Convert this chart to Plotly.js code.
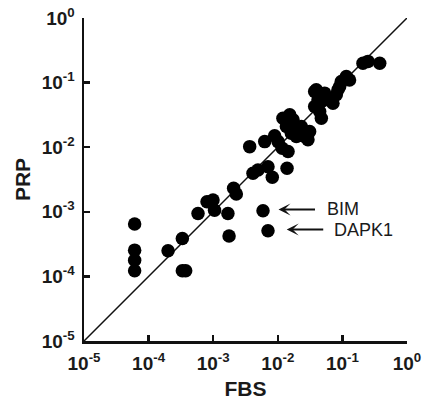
<!DOCTYPE html>
<html>
<head>
<meta charset="utf-8">
<script src="https://cdn.plot.ly/plotly-3.0.1.min.js"></script>
<style>html,body{margin:0;padding:0;background:#fff;}#chart{width:423px;height:403px;}</style>
</head>
<body>
<div id="chart"></div>
<script>
// FBS (x) and PRP (y) values
const fbs = [6.08e-5, 6.08e-5, 6.08e-5, 6.08e-5, 2.0e-4, 3.33e-4, 3.33e-4, 3.75e-4, 5.82e-4, 8.02e-4,
  9.93e-4, 1.05e-3, 1.69e-3, 1.76e-3, 2.07e-3, 2.28e-3, 3.67e-3, 4.13e-3, 4.93e-3, 6.27e-3,
  5.90e-3, 7.05e-3, 7.05e-3, 8.22e-3, 8.93e-3, 1.01e-2, 1.17e-2, 1.39e-2, 1.44e-2, 1.20e-2,
  1.36e-2, 1.53e-2, 1.72e-2, 1.94e-2, 2.18e-2, 2.31e-2, 2.61e-2, 2.93e-2, 1.94e-2, 1.62e-2,
  3.11e-2, 3.72e-2, 3.94e-2, 4.19e-2, 4.72e-2, 5.31e-2, 5.98e-2, 4.45e-2, 4.72e-2, 7.14e-2,
  8.05e-2, 9.08e-2, 9.62e-2, 0.115, 0.129, 8.55e-2, 0.208, 0.249, 0.378, 3.72e-2];
const prp = [6.46e-4, 2.55e-4, 1.78e-4, 1.22e-4, 2.49e-4, 3.86e-4, 1.22e-4, 1.22e-4, 9.44e-4, 1.43e-3,
  1.52e-3, 1.06e-3, 9.44e-4, 4.21e-4, 2.31e-3, 1.88e-3, 1.02e-2, 3.94e-3, 4.44e-3, 1.22e-2,
  1.04e-3, 5.08e-4, 5.0e-3, 3.42e-3, 1.50e-2, 1.22e-2, 9.62e-3, 4.71e-3, 8.55e-3, 2.81e-2,
  2.09e-2, 3.17e-2, 2.65e-2, 1.85e-2, 1.64e-2, 2.09e-2, 1.46e-2, 1.30e-2, 1.46e-2, 1.64e-2,
  1.75e-2, 4.27e-2, 7.73e-2, 5.41e-2, 5.09e-2, 6.87e-2, 5.41e-2, 3.56e-2, 2.81e-2, 4.81e-2,
  6.47e-2, 8.71e-2, 0.104, 0.124, 0.110, 7.73e-2, 0.200, 0.213, 0.200, 7.28e-2];
const identityLine = [1e-5, 1];
const tickVals = [1e-5, 1e-4, 1e-3, 1e-2, 1e-1, 1];
const tickText = ['10<sup>-5</sup>', '10<sup>-4</sup>', '10<sup>-3</sup>', '10<sup>-2</sup>', '10<sup>-1</sup>', '10<sup>0</sup>'];
const labels = ['BIM', 'DAPK1'];
const labelFbs = [5.90e-3, 7.05e-3];
const labelPrp = [1.04e-3, 5.08e-4];

const fam = 'Liberation Sans, Arial, sans-serif';
const tickFont = {family: fam, size: 19, color: '#1a1a1a', weight: 'bold'};
const axisCommon = {
  type: 'log', range: [-5, 0], tickvals: tickVals, ticktext: tickText,
  ticks: 'inside', ticklen: 6, tickwidth: 2.5, tickcolor: '#111',
  showline: true, linewidth: 2.5, linecolor: '#111', mirror: false,
  showgrid: false, zeroline: false, tickfont: tickFont
};

const traces = [
  {x: identityLine, y: identityLine, mode: 'lines', line: {color: '#111', width: 1.5}, hoverinfo: 'skip'},
  {x: fbs, y: prp, mode: 'markers', marker: {color: '#000', size: 13.5, line: {width: 0}}}
];

const annFont = {family: fam, size: 18, color: '#1a1a1a'};
const annotations = [];
const arrowGap = [0.24, 0.29];
const textGap = [0.955, 0.986];
labels.forEach((t, i) => {
  const lx = Math.log10(labelFbs[i]);
  const ly = Math.log10(labelPrp[i]);
  annotations.push({x: lx + arrowGap[i], y: ly + 0.02, xref: 'x', yref: 'y', text: '', showarrow: true,
    arrowhead: 3, arrowsize: 1, arrowwidth: 2, arrowcolor: '#111', ax: 38, ay: 0, standoff: 0});
  annotations.push({x: lx + textGap[i], y: ly + 0.02, xref: 'x', yref: 'y', text: t, showarrow: false,
    xanchor: 'left', yanchor: 'middle', font: annFont});
});

const layout = {
  width: 423, height: 403,
  margin: {l: 84, r: 16, t: 18, b: 62},
  paper_bgcolor: '#fff', plot_bgcolor: '#fff',
  showlegend: false,
  xaxis: Object.assign({}, axisCommon, {ticklabelstandoff: 4,
    title: {text: 'FBS', font: {family: fam, size: 21, color: '#1a1a1a', weight: 'bold'}, standoff: 8}}),
  yaxis: Object.assign({}, axisCommon, {ticklabelstandoff: 3,
    title: {text: 'PRP', font: {family: fam, size: 21, color: '#1a1a1a', weight: 'bold'}, standoff: 6}}),
  annotations: annotations
};

Plotly.newPlot('chart', traces, layout, {displayModeBar: false, staticPlot: true});
</script>
</body>
</html>
